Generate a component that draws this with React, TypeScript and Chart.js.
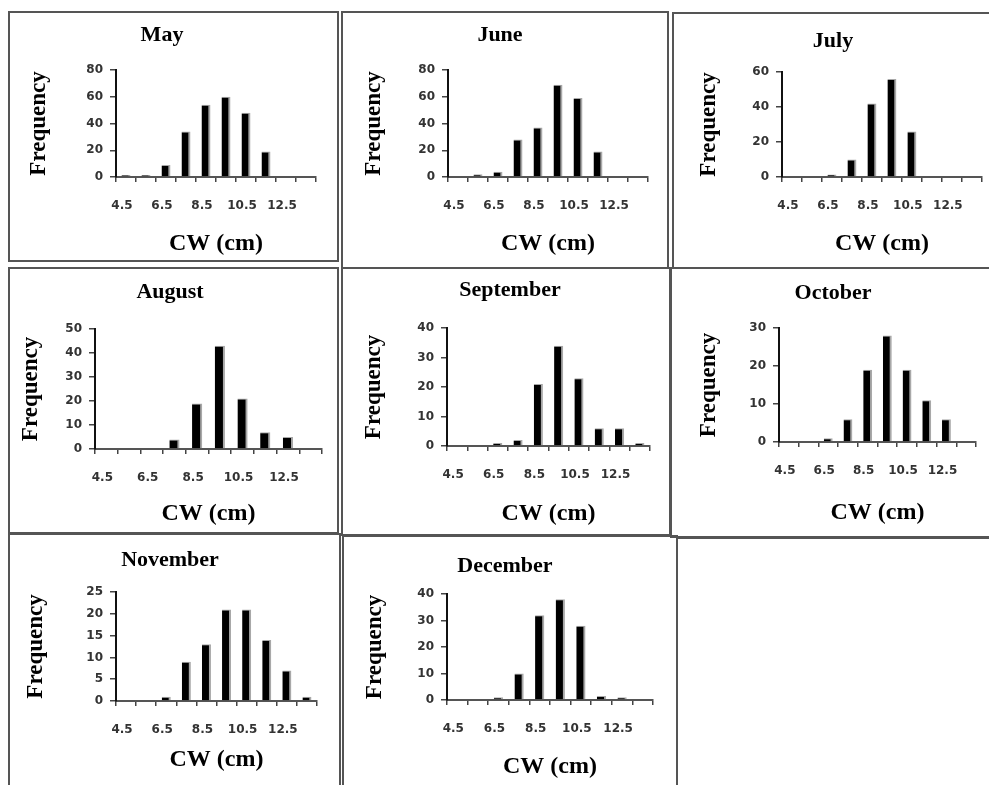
import React, { useEffect, useRef } from 'react';
import { Chart, registerables } from 'chart.js';

Chart.register(...registerables);

// ---------- data ----------
const categories = ['4.5', '5.5', '6.5', '7.5', '8.5', '9.5', '10.5', '11.5', '12.5', '13.5'];
const xTickLabels = ['4.5', '6.5', '8.5', '10.5', '12.5'];
const months = ['May', 'June', 'July', 'August', 'September', 'October', 'November', 'December'];

const mayValues = [1.5, 1.5, 9, 34, 54, 60, 48, 19, 0, 0];
const juneValues = [0, 2, 4, 28, 37, 69, 59, 19, 0, 0];
const julyValues = [0, 0, 1.5, 10, 42, 56, 26, 0, 0, 0];
const augustValues = [0, 0, 0, 4, 19, 43, 21, 7, 5, 0];
const septemberValues = [0, 0, 1, 2, 21, 34, 23, 6, 6, 1];
const octoberValues = [0, 0, 1, 6, 19, 28, 19, 11, 6, 0];
const novemberValues = [0, 0, 1, 9, 13, 21, 21, 14, 7, 1];
const decemberValues = [0, 0, 1, 10, 32, 38, 28, 1.5, 1, 0];

const seriesByMonth = [
  mayValues, juneValues, julyValues, augustValues,
  septemberValues, octoberValues, novemberValues, decemberValues,
];
const yMaxByMonth = [80, 80, 60, 50, 40, 30, 25, 40];
const yStepByMonth = [20, 20, 20, 10, 10, 10, 5, 10];

const xAxisTitle = 'CW (cm)';
const yAxisTitle = 'Frequency';

// ---------- layout (page pixels) ----------
// cell: [x, y, w, h]; plot: [left, top, right, bottom]; title: [cx, cy]; freqX; cwY
type Layout = {
  cell: number[];
  plot: number[];
  title: number[];
  freqX: number;
  cwY: number;
};
const layouts: Layout[] = [
  { cell: [8, 11, 330, 250], plot: [116, 70, 316, 177], title: [162, 35.3], freqX: 39, cwY: 244 },
  { cell: [341, 11, 327, 257], plot: [448, 70, 648, 177], title: [500, 35.3], freqX: 374.5, cwY: 243.6 },
  { cell: [673, 12, 316, 256], plot: [782, 72, 982, 177], title: [833, 41], freqX: 709, cwY: 244 },
  { cell: [8, 268, 330, 265], plot: [95, 329, 322, 449], title: [170, 292.6], freqX: 31.5, cwY: 513.5 },
  { cell: [341, 268, 329, 267], plot: [447, 328, 650, 446], title: [510, 290], freqX: 374, cwY: 513.5 },
  { cell: [670, 268, 319, 269], plot: [779, 328, 976, 442], title: [833, 293], freqX: 709, cwY: 513 },
  { cell: [8, 533, 332, 252], plot: [116, 592, 317, 701], title: [170, 560], freqX: 36.5, cwY: 760 },
  { cell: [343, 535, 334, 250], plot: [447, 594, 653, 700], title: [505, 566], freqX: 375, cwY: 767 },
];

// border boxes [left, top, right, bottom]
const borders: number[][] = [
  [8, 11, 339, 262],
  [341, 11, 669, 269],
  [672, 12, 991, 269],
  [8, 267, 339, 534],
  [341, 267, 671, 536],
  [670, 267, 991, 538],
  [8, 533, 341, 787],
  [342, 535, 678, 787],
  [676, 537, 991, 787],
];

const TITLE_SIZE = 22;
const FREQ_SIZE = 23;
const CW_SIZE = 24;
const LH = 1.2;
const SERIF = "'Liberation Serif', 'Times New Roman', serif";
const SANS = "'DejaVu Sans', Verdana, sans-serif";
const TICK_SIZE = 12;
const X_TICK_LEN = 5;
const Y_TICK_LEN = 6;

function Panel({ index }: { index: number }) {
  const ref = useRef<HTMLCanvasElement | null>(null);
  const L = layouts[index];
  const [cx, cy, W, H] = L.cell;
  const [pl, pt, pr, pb] = L.plot;

  useEffect(() => {
    if (!ref.current) return;
    const padR = W - (pr - cx);
    const tcx = L.title[0] - cx;
    const padL = 2 * tcx - W + padR;
    const yWidth = pl - cx - padL;
    const titleLH = TITLE_SIZE * LH;
    const titlePadTop = L.title[1] - cy - titleLH / 2;
    const titlePadBottom = pt - cy - titlePadTop - titleLH;
    const freqPad = L.freqX - cx - padL - (FREQ_SIZE * LH) / 2;
    const xHeight = H - (pb - cy);
    const cwPadBottom = H - (L.cwY - cy) - (CW_SIZE * LH) / 2;
    const xTickPad = 29 - X_TICK_LEN - (TICK_SIZE * LH) / 2;

    const chart = new Chart(ref.current, {
      type: 'bar',
      data: {
        labels: categories,
        datasets: [
          {
            data: seriesByMonth[index],
            backgroundColor: '#000000',
            borderColor: '#a8a8a8',
            borderWidth: { top: 1, right: 2, bottom: 0, left: 0 },
            borderSkipped: false,
            categoryPercentage: 1,
            barPercentage: 0.45,
          },
        ],
      },
      options: {
        animation: false,
        responsive: false,
        devicePixelRatio: 1,
        layout: { padding: { left: padL, right: padR, top: 0, bottom: 0 } },
        plugins: {
          legend: { display: false },
          tooltip: { enabled: false },
          title: {
            display: true,
            text: months[index],
            color: '#000',
            font: { family: SERIF, size: TITLE_SIZE, weight: 'bold', lineHeight: LH },
            padding: { top: titlePadTop, bottom: titlePadBottom },
          },
        },
        scales: {
          x: {
            offset: true,
            grid: {
              display: true,
              offset: true,
              drawOnChartArea: false,
              drawTicks: true,
              tickLength: X_TICK_LEN,
              color: '#444',
              lineWidth: 1.5,
            },
            border: { display: true, color: '#555', width: 2 },
            ticks: {
              autoSkip: false,
              maxRotation: 0,
              minRotation: 0,
              padding: xTickPad,
              labelOffset: -4,
              color: '#333',
              font: { family: SANS, size: TICK_SIZE, weight: 'bold', lineHeight: LH },
              callback: (_v: any, i: number) =>
                xTickLabels.includes(categories[i]) ? categories[i] : '',
            },
            title: {
              display: true,
              text: xAxisTitle,
              color: '#000',
              font: { family: SERIF, size: CW_SIZE, weight: 'bold', lineHeight: LH },
              padding: { top: 0, bottom: cwPadBottom },
            },
            afterFit: (s: any) => {
              s.height = xHeight;
            },
          } as any,
          y: {
            min: 0,
            max: yMaxByMonth[index],
            grid: {
              display: true,
              drawOnChartArea: false,
              drawTicks: true,
              tickLength: Y_TICK_LEN,
              color: '#444',
              lineWidth: 1.5,
            },
            border: { display: true, color: '#111', width: 2 },
            ticks: {
              stepSize: yStepByMonth[index],
              padding: 7,
              color: '#333',
              font: { family: SANS, size: TICK_SIZE, weight: 'bold', lineHeight: LH },
            },
            title: {
              display: true,
              text: yAxisTitle,
              color: '#000',
              font: { family: SERIF, size: FREQ_SIZE, weight: 'bold', lineHeight: LH },
              padding: { top: freqPad, bottom: 0 },
            },
            afterFit: (s: any) => {
              s.width = yWidth;
            },
          } as any,
        },
      } as any,
    });
    return () => chart.destroy();
  }, [index]);

  return (
    <canvas
      ref={ref}
      width={W}
      height={H}
      style={{ position: 'absolute', left: cx, top: cy, width: W, height: H }}
    />
  );
}

export default function App() {
  return (
    <div
      style={{
        position: 'absolute',
        left: 0,
        top: 0,
        width: 989,
        height: 785,
        overflow: 'hidden',
        background: '#fff',
      }}
    >
      {months.map((_, i) => (
        <Panel key={i} index={i} />
      ))}
      {borders.map((b, i) => (
        <div
          key={'b' + i}
          style={{
            position: 'absolute',
            left: b[0],
            top: b[1],
            width: b[2] - b[0],
            height: b[3] - b[1],
            border: '2px solid #555',
            boxSizing: 'border-box',
            pointerEvents: 'none',
          }}
        />
      ))}
    </div>
  );
}
